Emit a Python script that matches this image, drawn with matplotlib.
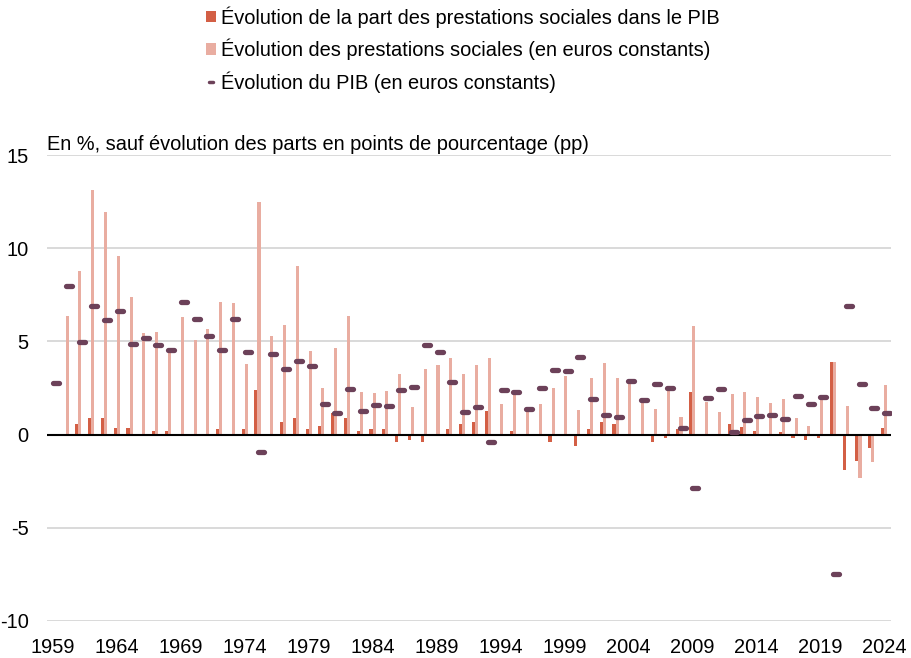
import numpy as np
import matplotlib
matplotlib.use("Agg")
import matplotlib.pyplot as plt
from matplotlib.lines import Line2D
from matplotlib.patches import Patch
from matplotlib.markers import MarkerStyle

plt.rcParams['font.family'] = ['Liberation Sans', 'DejaVu Sans']

# Années
annees = list(range(1959, 2025))

# Évolution de la part des prestations sociales dans le PIB (pp)
part_pib = [np.nan, -0.07, 0.59, 0.87, 0.87, 0.37, 0.37, 0.05, 0.18, 0.18,
            -0.07, -0.07, 0.05, 0.28, 0.05, 0.28, 2.39, 0.05, 0.68, 0.87,
            0.28, 0.48, 1.18, 0.87, 0.18, 0.28, 0.28, -0.40, -0.31, -0.40,
            -0.07, 0.28, 0.59, 0.68, 1.29, -0.07, 0.18, 0.02, -0.05, -0.40,
            0.02, -0.61, 0.28, 0.68, 0.59, 0.05, 0.02, -0.42, -0.18, 0.28,
            2.30, -0.07, -0.07, 0.59, 0.39, 0.18, -0.05, 0.16, -0.20, -0.31,
            -0.20, 3.89, -1.91, -1.41, -0.72, 0.37]

# Évolution des prestations sociales (en euros constants, %)
prestations = [np.nan, 6.38, 8.80, 13.14, 11.95, 9.57, 7.36, 5.45, 5.48, 4.43,
               6.32, 5.05, 5.68, 7.14, 7.04, 3.77, 12.49, 5.27, 5.89, 9.02,
               4.46, 2.50, 4.66, 6.34, 2.30, 2.21, 2.34, 3.23, 1.48, 3.50,
               3.71, 4.11, 3.25, 3.73, 4.09, 1.66, 2.16, 1.30, 1.62, 2.52,
               3.16, 1.34, 3.02, 3.84, 3.05, 2.75, 1.84, 1.37, 2.37, 0.93,
               5.82, 1.77, 1.20, 2.16, 2.27, 2.04, 1.71, 1.89, 0.87, 0.48,
               1.84, 3.87, 1.52, -2.31, -1.47, 2.64]

# Évolution du PIB (en euros constants, %)
pib = [2.79, 7.98, 4.96, 6.88, 6.13, 6.61, 4.86, 5.18, 4.80, 4.53,
       7.13, 6.21, 5.30, 4.52, 6.21, 4.43, -0.96, 4.34, 3.54, 3.97,
       3.70, 1.66, 1.18, 2.43, 1.25, 1.59, 1.55, 2.37, 2.55, 4.80,
       4.41, 2.82, 1.23, 1.50, -0.38, 2.37, 2.28, 1.37, 2.52, 3.45,
       3.39, 4.14, 1.89, 1.05, 0.94, 2.86, 1.87, 2.70, 2.52, 0.37,
       -2.86, 1.98, 2.43, 0.16, 0.77, 1.00, 1.05, 0.86, 2.07, 1.64,
       2.02, -7.49, 6.89, 2.71, 1.43, 1.18]

labels_annees = [str(a) for a in range(1959, 2025, 5)]

couleur_part = '#D35F45'
couleur_prest = '#E9ADA1'
couleur_pib = '#6C4159'
taille = 14.4

fig = plt.figure(figsize=(9.11, 6.58), dpi=100)
ax = fig.add_axes([46.7 / 911, 1 - 621 / 658, (890.7 - 46.7) / 911, (621 - 155) / 658])

x = np.array(annees, dtype=float)
largeur = 0.24
ax.bar(x - 0.14, part_pib, width=largeur, color=couleur_part, zorder=2)
ax.bar(x + 0.10, prestations, width=largeur, color=couleur_prest, zorder=2)

dash = MarkerStyle('_', capstyle='round')
ax.plot(x + 0.23, pib, linestyle='none', marker=dash, markersize=3.8,
        markeredgewidth=3.8, color=couleur_pib, zorder=4)

ax.axhline(0, color='black', linewidth=1.5, zorder=3)

ax.set_xlim(1958.5, 2024.5)
ax.set_ylim(-10, 15)
ax.set_yticks([-10, -5, 0, 5, 10, 15])
ax.set_yticklabels(['-10', '-5', '0', '5', '10', '15'])
ax.set_xticks(range(1959, 2025, 5))
ax.set_xticklabels(labels_annees)
ax.tick_params(axis='both', length=0, labelsize=taille)
ax.tick_params(axis='y', pad=13)
ax.tick_params(axis='x', pad=12.5)
ax.yaxis.grid(True, color='#D9D9D9', linewidth=1.4, zorder=0)
ax.set_axisbelow(True)
for s in ax.spines.values():
    s.set_visible(False)

ax.text(0, 1.011, 'En %, sauf évolution des parts en points de pourcentage (pp)',
        transform=ax.transAxes, fontsize=taille, ha='left', va='baseline')

handles = [
    Patch(facecolor=couleur_part, edgecolor='none'),
    Patch(facecolor=couleur_prest, edgecolor='none'),
    Line2D([], [], linestyle='none', marker=MarkerStyle('_', capstyle='round'),
           markersize=3, markeredgewidth=2.5, color=couleur_pib),
]
etiquettes = [
    'Évolution de la part des prestations sociales dans le PIB',
    'Évolution des prestations sociales (en euros constants)',
    'Évolution du PIB (en euros constants)',
]
fig.legend(handles, etiquettes, loc='upper left', bbox_to_anchor=(194 / 911, 1.009),
           frameon=False, fontsize=taille, handlelength=0.5, handleheight=0.5,
           handletextpad=0.25, labelspacing=0.55, borderaxespad=0.2)

fig.savefig('out.png', dpi=100)
